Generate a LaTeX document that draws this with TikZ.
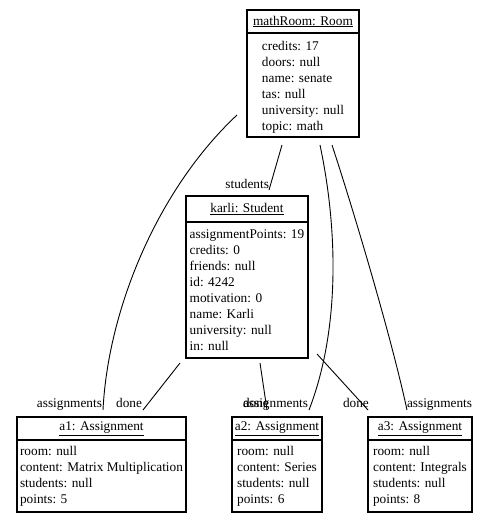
\documentclass[tikz,border=0pt]{standalone}
\usepackage{fontspec}
\setmainfont{Liberation Serif}
\begin{document}
\begin{tikzpicture}[x=1pt,y=-1pt,
  every node/.style={font=\fontsize{13.3}{16}\selectfont, inner sep=0pt, outer sep=0pt},
  objhead/.style={draw, line width=1.2pt, anchor=north west},
  objbody/.style={draw, line width=1.2pt, anchor=north west, align=left},
  conn/.style={line width=0.9pt},
  lbl/.style={}]
\useasboundingbox (0,0) rectangle (484,523);

% mathRoom
\node[objhead, minimum width=112pt, minimum height=23pt] (roomh) at (247,10) {\underline{mathRoom: Room}};
\node[objbody, minimum width=112pt, minimum height=104pt] (roomb) at (roomh.south west) {};
\node[align=left] (roomt) at ([yshift=-2.5pt]roomb.center)
  {credits: 17\\doors: null\\name: senate\\tas: null\\university: null\\topic: math};

% karli
\node[objhead, minimum width=122pt, minimum height=26pt] (karlih) at (186,196) {\underline{karli: Student}};
\node[objbody, minimum width=122pt, minimum height=136pt] (karlib) at (karlih.south west)
  {assignmentPoints: 19\\credits: 0\\friends: null\\id: 4242\\motivation: 0\\name: Karli\\university: null\\in: null};

% a1
\node[objhead, minimum width=169pt, minimum height=23pt] (a1h) at (17,417) {\underline{a1: Assignment}};
\node[objbody, minimum width=169pt, minimum height=72pt] (a1b) at (a1h.south west)
  {room: null\\content: Matrix Multiplication\\students: null\\points: 5};

% a2
\node[objhead, minimum width=90pt, minimum height=23pt] (a2h) at (232,417) {\underline{a2: Assignment}};
\node[objbody, minimum width=90pt, minimum height=72pt] (a2b) at (a2h.south west)
  {room: null\\content: Series\\students: null\\points: 6};

% a3
\node[objhead, minimum width=104pt, minimum height=23pt] (a3h) at (368,417) {\underline{a3: Assignment}};
\node[objbody, minimum width=104pt, minimum height=72pt] (a3b) at (a3h.south west)
  {room: null\\content: Integrals\\students: null\\points: 8};

% connector end points
\coordinate (rA1) at (237,115);
\coordinate (a1As) at (103,410);
\coordinate (rK) at (282,145);
\coordinate (kS) at (269,190);
\coordinate (rA2) at (320,145);
\coordinate (a2As) at (309,410);
\coordinate (rA3) at (332,145);
\coordinate (a3As) at (407,410);
\coordinate (kD1) at (180,363);
\coordinate (a1D) at (143,410);
\coordinate (kD2) at (260,363);
\coordinate (a2D) at (267,410);
\coordinate (kD3) at (317,354);
\coordinate (a3D) at (368,410);

\draw[conn] (rA1) .. controls (157,190) and (108,310) .. (a1As);
\draw[conn] (rK) -- (kS);
\draw[conn] (rA2) .. controls (338,230) and (340,330) .. (a2As);
\draw[conn] (rA3) .. controls (355,215) and (392,340) .. (a3As);
\draw[conn] (kD1) -- (a1D);
\draw[conn] (kD2) -- (a2D);
\draw[conn] (kD3) -- (a3D);

% labels
\node[lbl, anchor=base east] (lst) at (269,188) {students};
\node[lbl, anchor=base east] (la1a) at (102,407) {assignments};
\node[lbl, anchor=base east] (la1d) at (142,407) {done};
\node[lbl, anchor=base west] (la2d) at (243,407) {done};
\node[lbl, anchor=base west] (la2a) at (243,407) {assignments};
\node[lbl, anchor=base west] (la3d) at (343,407) {done};
\node[lbl, anchor=base west] (la3a) at (407,407) {assignments};
\end{tikzpicture}
\end{document}
